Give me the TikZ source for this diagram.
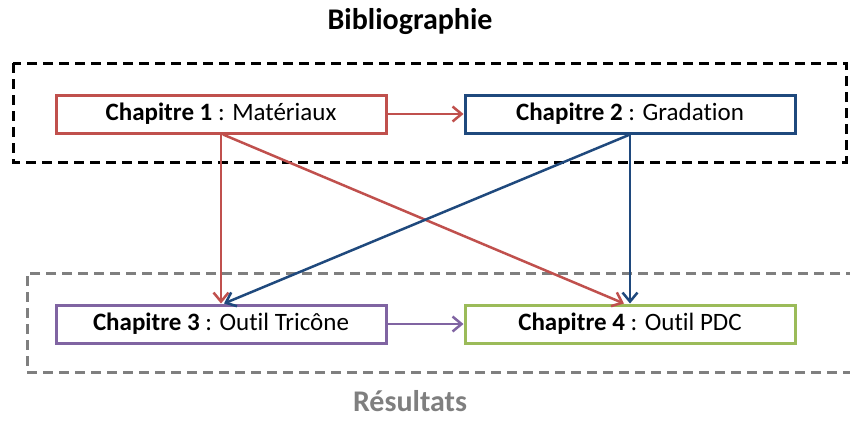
\documentclass[tikz,border=0pt]{standalone}
\usepackage{fontspec}
\setmainfont{Carlito}[Ligatures={NoCommon}]
\usetikzlibrary{arrows.meta}
\definecolor{chred}{HTML}{C0504D}
\definecolor{chblue}{HTML}{1F497D}
\definecolor{chpurple}{HTML}{8064A2}
\definecolor{chgreen}{HTML}{9BBB59}
\definecolor{resgray}{HTML}{7F7F7F}
\tikzset{
	chapbox/.style={draw=#1, line width=3pt, fill=white, minimum width=330pt, minimum height=38pt, inner sep=0pt, font=\fontsize{25}{30}\selectfont},
	link/.style={draw=#1, line width=2.5pt, -{Straight Barb[length=9pt, width=15pt, line width=2.5pt]}},
	groupline/.style={line width=3pt, dash pattern=on 10pt off 6pt}
}
\begin{document}
\begin{tikzpicture}[x=1pt, y=-1pt]
	\useasboundingbox (0,0) rectangle (850,421);
	% titres des groupes
	\node[font=\fontsize{30}{36}\selectfont\bfseries] (biblio) at (410,22) {Bibliographie};
	\node[font=\fontsize{30}{36}\selectfont\bfseries, text=resgray] (result) at (410,401) {Résultats};
	% cadres en pointilles
	\draw[groupline] (13,63) rectangle (846,162);
	\draw[groupline, resgray] (856,273) -- (27,273) -- (27,372) -- (856,372);
	% chapitres
	\node[chapbox=chred] (ch1) at (221,114) {\textbf{Chapitre 1} : Matériaux};
	\node[chapbox=chblue] (ch2) at (630,114) {\textbf{Chapitre 2} : Gradation};
	\node[chapbox=chpurple] (ch3) at (221,324) {\textbf{Chapitre 3} : Outil Tricône};
	\node[chapbox=chgreen] (ch4) at (630,324) {\textbf{Chapitre 4} : Outil PDC};
	% liens
	\draw[link=chred] (ch1) -- (ch2);
	\draw[link=chred] (ch1.south) -- (ch3.north);
	\draw[link=chred] ([xshift=2pt]ch1.south) -- ([xshift=-6pt]ch4.north);
	\draw[link=chblue] (ch2.south) -- (ch4.north);
	\draw[link=chblue] (ch2.south) -- ([xshift=3pt]ch3.north);
	\draw[link=chpurple] (ch3) -- (ch4);
\end{tikzpicture}
\end{document}
